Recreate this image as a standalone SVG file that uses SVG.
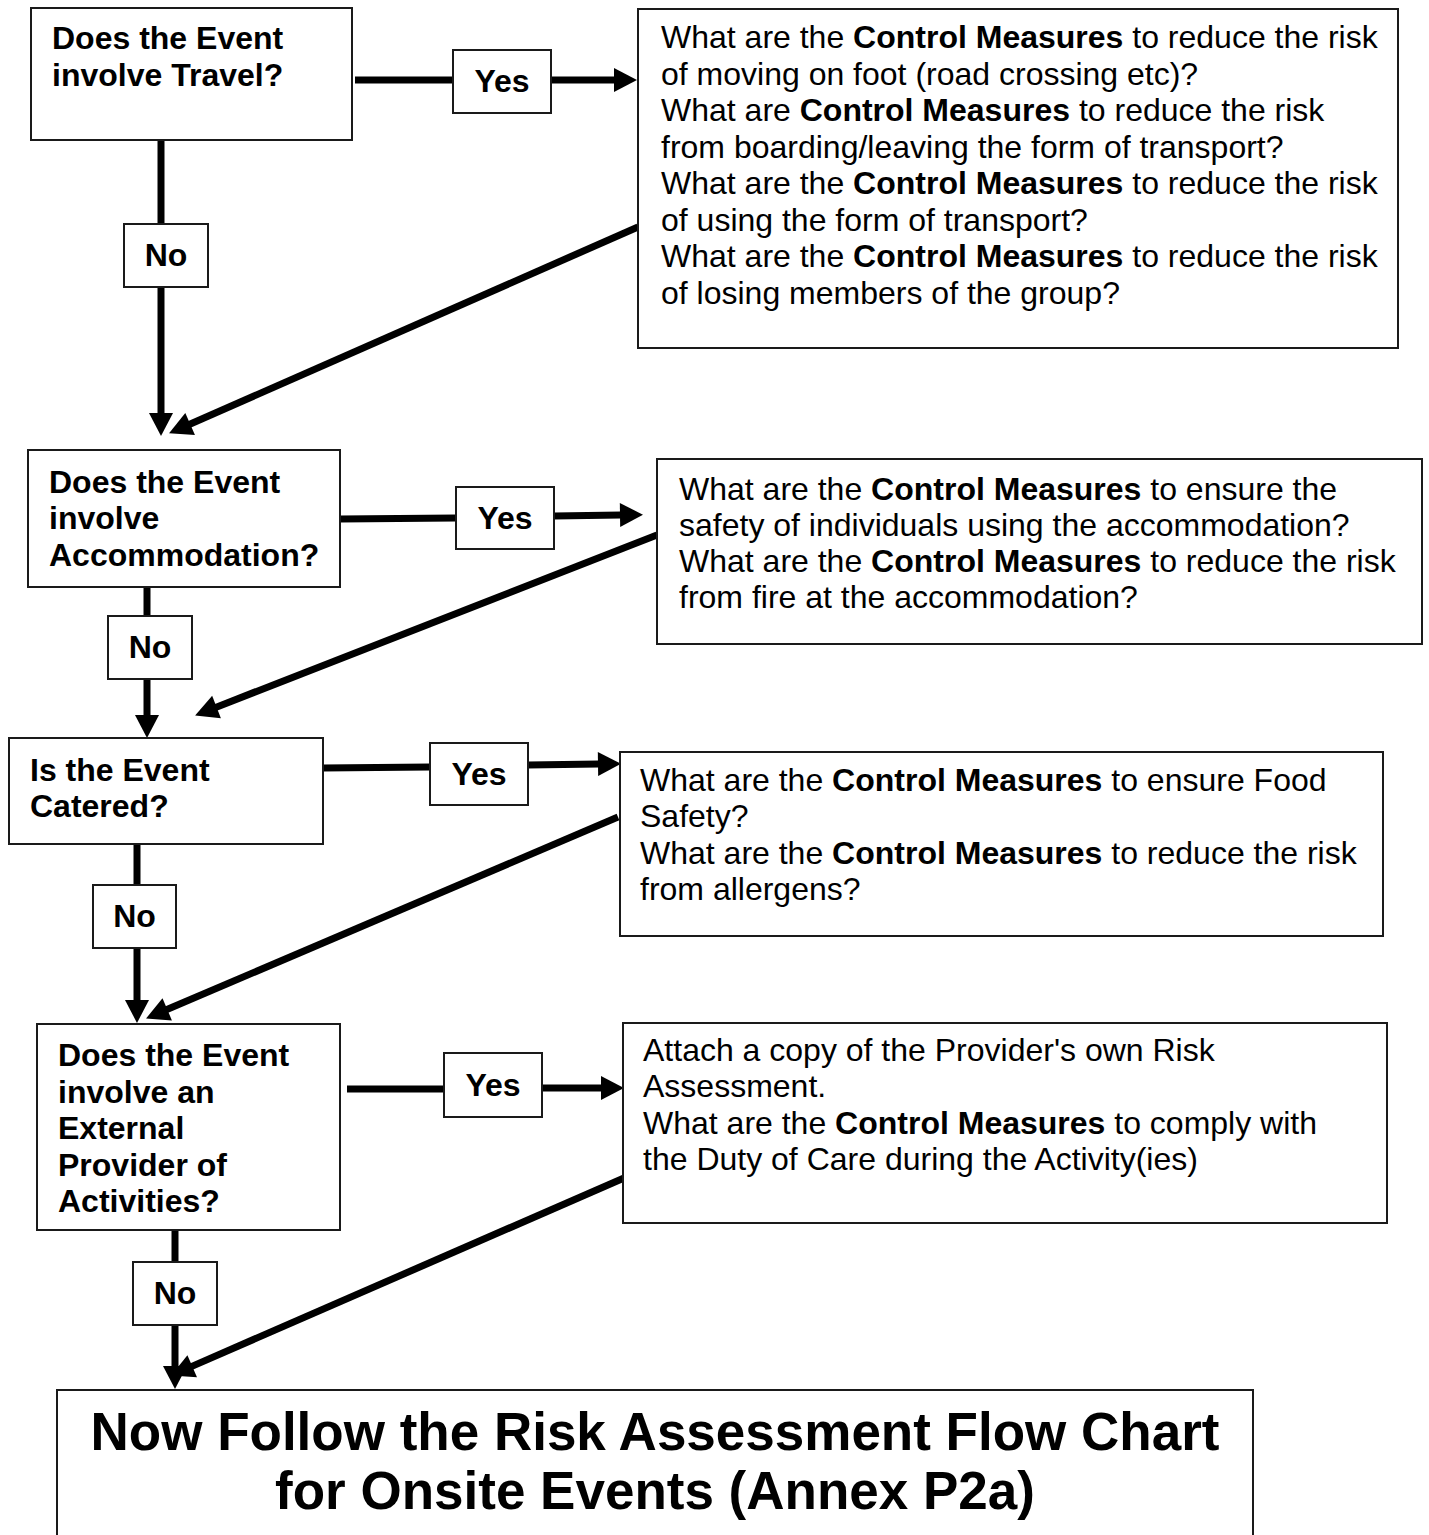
<svg xmlns="http://www.w3.org/2000/svg" width="1429" height="1535" viewBox="0 0 1429 1535">
  <style>
    .box { fill: #ffffff; stroke: #1a1a1a; stroke-width: 2; }
    .q { font-family: "Liberation Sans", Arial, sans-serif; font-size: 32px; font-weight: bold; fill: #000; }
    .lbl { font-family: "Liberation Sans", Arial, sans-serif; font-size: 32px; font-weight: bold; fill: #000; text-anchor: middle; }
    .body { font-family: "Liberation Sans", Arial, sans-serif; font-size: 32px; fill: #000; }
    .b { font-weight: bold; }
    .title { font-family: "Liberation Sans", Arial, sans-serif; font-size: 53px; font-weight: bold; fill: #000; text-anchor: middle; }
    .conn { stroke: #000; stroke-width: 7; fill: none; }
    .arrow { stroke: #000; stroke-width: 7; fill: none; marker-end: url(#head); }
  </style>
  <defs>
    <marker id="head" markerUnits="userSpaceOnUse" markerWidth="26" markerHeight="28" refX="1" refY="13" orient="auto" overflow="visible">
      <path d="M0,1 L23,13 L0,25 z" fill="#000"/>
    </marker>
  </defs>
  <rect width="1429" height="1535" fill="#ffffff"/>

  <!-- connectors -->
  <g id="connectors">
    <!-- Travel -->
    <line class="conn" x1="355" y1="80" x2="453" y2="80"/>
    <line class="arrow" x1="551" y1="80" x2="615" y2="80"/>
    <line class="conn" x1="161" y1="140" x2="161" y2="224"/>
    <line class="arrow" x1="161" y1="287" x2="161" y2="414"/>
    <line class="arrow" x1="638" y1="227" x2="189.2" y2="424.5"/>
    <!-- Accommodation -->
    <line class="conn" x1="340" y1="519" x2="456" y2="518"/>
    <line class="arrow" x1="554" y1="516" x2="621" y2="515"/>
    <line class="conn" x1="147" y1="587" x2="147" y2="616"/>
    <line class="arrow" x1="147" y1="679" x2="147" y2="716"/>
    <line class="arrow" x1="657" y1="535" x2="215.6" y2="707.4"/>
    <!-- Catering -->
    <line class="conn" x1="323" y1="768" x2="430" y2="767"/>
    <line class="arrow" x1="528" y1="765" x2="599" y2="764"/>
    <line class="conn" x1="137" y1="844" x2="137" y2="885"/>
    <line class="arrow" x1="137" y1="948" x2="137" y2="1001"/>
    <line class="arrow" x1="618" y1="817" x2="166.3" y2="1009.8"/>
    <!-- External provider -->
    <line class="conn" x1="347" y1="1089" x2="444" y2="1089"/>
    <line class="arrow" x1="542" y1="1088" x2="602" y2="1088"/>
    <line class="conn" x1="175" y1="1230" x2="175" y2="1262"/>
    <line class="arrow" x1="175" y1="1325" x2="175" y2="1367"/>
    <line class="arrow" x1="624" y1="1178" x2="191.3" y2="1366.6"/>
  </g>

  <!-- decision: travel -->
  <g id="q-travel">
    <rect class="box" x="31" y="8" width="321" height="132"/>
    <text class="q" x="52" y="49">Does the Event</text>
    <text class="q" x="52" y="86">involve Travel?</text>
  </g>
  <g id="yes-travel">
    <rect class="box" x="453" y="50" width="98" height="63"/>
    <text class="lbl" x="502" y="92">Yes</text>
  </g>
  <g id="no-travel">
    <rect class="box" x="124" y="224" width="84" height="63"/>
    <text class="lbl" x="166" y="266">No</text>
  </g>
  <g id="m-travel">
    <rect class="box" x="638" y="9" width="760" height="339"/>
    <text class="body" x="661" y="48">What are the <tspan class="b">Control Measures</tspan> to reduce the risk</text>
    <text class="body" x="661" y="85">of moving on foot (road crossing etc)?</text>
    <text class="body" x="661" y="121">What are <tspan class="b">Control Measures</tspan> to reduce the risk</text>
    <text class="body" x="661" y="158">from boarding/leaving the form of transport?</text>
    <text class="body" x="661" y="194">What are the <tspan class="b">Control Measures</tspan> to reduce the risk</text>
    <text class="body" x="661" y="231">of using the form of transport?</text>
    <text class="body" x="661" y="267">What are the <tspan class="b">Control Measures</tspan> to reduce the risk</text>
    <text class="body" x="661" y="304">of losing members of the group?</text>
  </g>

  <!-- decision: accommodation -->
  <g id="q-accommodation">
    <rect class="box" x="28" y="450" width="312" height="137"/>
    <text class="q" x="49" y="493">Does the Event</text>
    <text class="q" x="49" y="529">involve</text>
    <text class="q" x="49" y="566">Accommodation?</text>
  </g>
  <g id="yes-accommodation">
    <rect class="box" x="456" y="487" width="98" height="62"/>
    <text class="lbl" x="505" y="529">Yes</text>
  </g>
  <g id="no-accommodation">
    <rect class="box" x="108" y="616" width="84" height="63"/>
    <text class="lbl" x="150" y="658">No</text>
  </g>
  <g id="m-accommodation">
    <rect class="box" x="657" y="459" width="765" height="185"/>
    <text class="body" x="679" y="500">What are the <tspan class="b">Control Measures</tspan> to ensure the</text>
    <text class="body" x="679" y="536">safety of individuals using the accommodation?</text>
    <text class="body" x="679" y="572">What are the <tspan class="b">Control Measures</tspan> to reduce the risk</text>
    <text class="body" x="679" y="608">from fire at the accommodation?</text>
  </g>

  <!-- decision: catering -->
  <g id="q-catering">
    <rect class="box" x="9" y="738" width="314" height="106"/>
    <text class="q" x="30" y="781">Is the Event</text>
    <text class="q" x="30" y="817">Catered?</text>
  </g>
  <g id="yes-catering">
    <rect class="box" x="430" y="743" width="98" height="62"/>
    <text class="lbl" x="479" y="785">Yes</text>
  </g>
  <g id="no-catering">
    <rect class="box" x="93" y="885" width="83" height="63"/>
    <text class="lbl" x="134.5" y="927">No</text>
  </g>
  <g id="m-catering">
    <rect class="box" x="620" y="752" width="763" height="184"/>
    <text class="body" x="640" y="791">What are the <tspan class="b">Control Measures</tspan> to ensure Food</text>
    <text class="body" x="640" y="827">Safety?</text>
    <text class="body" x="640" y="864">What are the <tspan class="b">Control Measures</tspan> to reduce the risk</text>
    <text class="body" x="640" y="900">from allergens?</text>
  </g>

  <!-- decision: external provider -->
  <g id="q-provider">
    <rect class="box" x="37" y="1024" width="303" height="206"/>
    <text class="q" x="58" y="1066">Does the Event</text>
    <text class="q" x="58" y="1103">involve an</text>
    <text class="q" x="58" y="1139">External</text>
    <text class="q" x="58" y="1176">Provider of</text>
    <text class="q" x="58" y="1212">Activities?</text>
  </g>
  <g id="yes-provider">
    <rect class="box" x="444" y="1053" width="98" height="64"/>
    <text class="lbl" x="493" y="1096">Yes</text>
  </g>
  <g id="no-provider">
    <rect class="box" x="133" y="1262" width="84" height="63"/>
    <text class="lbl" x="175" y="1304">No</text>
  </g>
  <g id="m-provider">
    <rect class="box" x="623" y="1023" width="764" height="200"/>
    <text class="body" x="643" y="1061">Attach a copy of the Provider's own Risk</text>
    <text class="body" x="643" y="1097">Assessment.</text>
    <text class="body" x="643" y="1134">What are the <tspan class="b">Control Measures</tspan> to comply with</text>
    <text class="body" x="643" y="1170">the Duty of Care during the Activity(ies)</text>
  </g>

  <!-- closing instruction -->
  <g id="next-step">
    <rect class="box" x="57" y="1390" width="1196" height="160"/>
    <text class="title" x="655" y="1450">Now Follow the Risk Assessment Flow Chart</text>
    <text class="title" x="655" y="1509">for Onsite Events (Annex P2a)</text>
  </g>
</svg>
